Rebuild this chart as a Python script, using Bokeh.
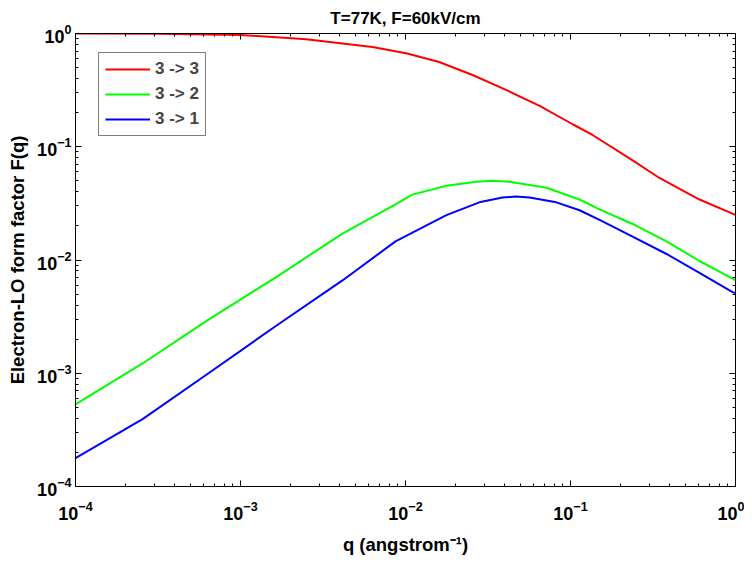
from bokeh.plotting import figure
from bokeh.models import (Range1d, LogAxis, FixedTicker, LogTickFormatter,
                          Legend, LegendItem)
from bokeh.embed import file_html
from bokeh.resources import INLINE

# ---- data ----
q33 = [1e-4, 3.2e-4, 1.0e-3, 2.5e-3, 6.3e-3, 1.01e-2, 1.6e-2, 2.55e-2, 4.1e-2,
       6.5e-2, 0.103, 0.136, 0.228, 0.346, 0.605, 1.0]
f33 = [1.0, 0.995, 0.97, 0.89, 0.76, 0.67, 0.56, 0.43, 0.316,
       0.23, 0.158, 0.127, 0.079, 0.053, 0.0342, 0.025]

q32 = [1e-4, 2.55e-4, 6.4e-4, 1.63e-3, 4.15e-3, 8.7e-3, 1.1e-2, 1.77e-2, 2.69e-2,
       3.37e-2, 4.27e-2, 7.16e-2, 0.1135, 0.15, 0.238, 0.382, 0.605, 0.96, 1.0]
f32 = [5.3e-4, 1.22e-3, 2.98e-3, 7.0e-3, 1.71e-2, 3.1e-2, 3.78e-2, 4.52e-2, 4.9e-2,
       5.0e-2, 4.9e-2, 4.35e-2, 3.42e-2, 2.8e-2, 2.08e-2, 1.46e-2, 9.8e-3, 6.86e-3, 6.6e-3]

q31 = [1e-4, 2.55e-4, 6.4e-4, 1.63e-3, 4.15e-3, 8.7e-3, 1.77e-2, 2.8e-2, 3.87e-2,
       4.65e-2, 5.65e-2, 8.2e-2, 0.1135, 0.15, 0.238, 0.382, 0.605, 0.96, 1.0]
f31 = [1.78e-4, 3.94e-4, 1.0e-3, 2.6e-3, 6.6e-3, 1.46e-2, 2.49e-2, 3.23e-2, 3.56e-2,
       3.63e-2, 3.56e-2, 3.23e-2, 2.75e-2, 2.26e-2, 1.61e-2, 1.13e-2, 7.7e-3, 5.2e-3, 5.1e-3]

labels = ["3 -> 3", "3 -> 2", "3 -> 1"]
colors = ["#ff0000", "#00ff00", "#0000ff"]

major_exps = [-4, -3, -2, -1, 0]
major_ticks = [10.0 ** e for e in major_exps]
minor_ticks = [k * 10.0 ** e for e in major_exps[:-1] for k in range(2, 10)]

title_text = "T=77K, F=60kV/cm"
xlabel = "q (angstrom\u207b\u00b9)"
ylabel = "Electron-LO form factor F(q)"

FONT = "Liberation Sans"

p = figure(width=744, height=557, x_axis_type="log", y_axis_type="log",
           x_range=Range1d(1e-4, 1), y_range=Range1d(1e-4, 1),
           output_backend="svg", toolbar_location=None,
           min_border_left=75, min_border_right=9,
           min_border_top=31, min_border_bottom=62)
p.background_fill_color = "white"
p.border_fill_color = "white"
p.outline_line_color = None
p.grid.visible = False

p.title.text = title_text
p.title.align = "center"
p.title.text_font = FONT
p.title.text_font_size = "17px"
p.title.text_font_style = "bold"
p.title.text_color = "black"
p.title.standoff = 12
p.title.offset = 0

rs = []
for q, f, c in zip([q33, q32, q31], [f33, f32, f31], colors):
    rs.append(p.line(q, f, line_color=c, line_width=2))


def style_axis(ax, show_labels):
    ax.ticker = FixedTicker(ticks=major_ticks, minor_ticks=minor_ticks)
    ax.axis_line_color = "black"
    ax.axis_line_width = 1
    ax.major_tick_in = 6
    ax.major_tick_out = 0
    ax.minor_tick_in = 3
    ax.minor_tick_out = 0
    ax.major_tick_line_color = "black"
    ax.minor_tick_line_color = "black"
    if show_labels:
        ax.formatter = LogTickFormatter()
        ax.major_label_text_font = FONT
        ax.major_label_text_font_size = "18px"
        ax.major_label_text_font_style = "bold"
        ax.major_label_text_color = "black"
        ax.axis_label_text_font = FONT
        ax.axis_label_text_font_size = "18.5px"
        ax.axis_label_text_font_style = "bold"
        ax.axis_label_text_color = "black"
    else:
        ax.major_label_text_font_size = "1px"
        ax.major_label_text_alpha = 0
        ax.major_label_standoff = 0


style_axis(p.xaxis[0], True)
style_axis(p.yaxis[0], True)
p.xaxis[0].axis_label = xlabel
p.yaxis[0].axis_label = ylabel
p.xaxis[0].major_label_standoff = 14
p.xaxis[0].axis_label_standoff = 11
p.yaxis[0].major_label_standoff = 4
p.yaxis[0].axis_label_standoff = 6

top = LogAxis()
right = LogAxis()
style_axis(top, False)
style_axis(right, False)
p.add_layout(top, "above")
p.add_layout(right, "right")

legend = Legend(items=[LegendItem(label=l, renderers=[r]) for l, r in zip(labels, rs)],
                location=(23, 350))
legend.border_line_color = "black"
legend.border_line_width = 1
legend.background_fill_color = "white"
legend.background_fill_alpha = 1
legend.label_text_font = FONT
legend.label_text_font_size = "17px"
legend.label_text_font_style = "bold"
legend.glyph_width = 45
legend.glyph_height = 20
legend.label_height = 20
legend.spacing = 5
legend.padding = 6
legend.margin = 0
legend.label_standoff = 5
p.add_layout(legend)

open("out.html", "w").write(file_html(p, INLINE))
